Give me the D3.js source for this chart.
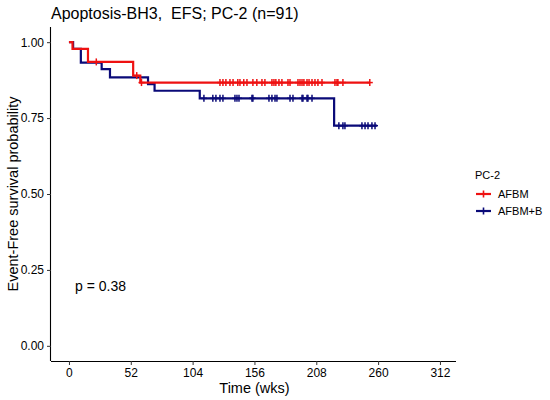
<!DOCTYPE html>
<html>
<head>
<meta charset="utf-8">
<script src="https://cdn.jsdelivr.net/npm/d3@7"></script>
<style>
  html, body { margin: 0; padding: 0; background: #fff; }
  svg { display: block; font-family: "Liberation Sans", Arial, sans-serif; }
</style>
</head>
<body>
<svg id="chart" width="550" height="400"></svg>
<script>
// ---- data ----
const title = "Apoptosis-BH3,  EFS; PC-2 (n=91)";
const groups = ["AFBM", "AFBM+B"];
const groupColors = ["#ee1111", "#0a0a78"];
const xTicks = [0, 52, 104, 156, 208, 260, 312];
const yTicks = [0, 0.25, 0.5, 0.75, 1.0];
const yTickLabels = ["0.00", "0.25", "0.50", "0.75", "1.00"];

// AFBM (red) step curve
const redStepTimes = [0, 3, 16, 54, 60];
const redStepSurv  = [1.0, 0.978, 0.935, 0.89, 0.867];
const redEndTime = 253;
const redCensorTimes = [23, 57, 61, 127, 129.5, 132, 135.4, 138, 142, 143.8, 147, 149.7, 154.7, 158, 162.3,
  164.8, 170.7, 172.4, 174, 176.6, 179.1, 184.2, 185.9, 192.6, 194.3, 196, 197.6, 200.2, 201.9,
  204.4, 206.9, 209.4, 212.8, 223.7, 225.4, 226.2, 230.4, 253];

// AFBM+B (navy) step curve
const navyStepTimes = [0, 3.5, 10, 27.5, 34.5, 66.5, 72, 110, 223];
const navyStepSurv  = [1.0, 0.978, 0.933, 0.911, 0.884, 0.862, 0.84, 0.815, 0.725];
const navyEndTime = 259;
const navyCensorTimes = [113.5, 121, 123.6, 127, 129.5, 139.6, 141.3, 143, 153.9, 154.7, 168.2, 170.7,
  173.3, 174.9, 185.9, 188.4, 196, 196.8, 200.2, 201, 204.4, 227, 230.4, 232.1, 246.4, 249, 251.5,
  254.8, 257.4];

const pValueText = "p = 0.38";
const legendTitle = "PC-2";

// ---- layout ----
const svg = d3.select("#chart");
const plot = { left: 51, right: 456, top: 27, bottom: 361 };

const x = d3.scaleLinear().domain([-15.1, 325.5]).range([plot.left, plot.right]);
const y = d3.scaleLinear().domain([-0.05, 1.05]).range([plot.bottom, plot.top]);

// title
svg.append("text").attr("x", 51).attr("y", 19)
  .attr("font-size", 16).attr("fill", "#000").style("white-space", "pre").text(title);

// axes
const xAxis = d3.axisBottom(x).tickValues(xTicks).tickSize(4).tickPadding(3).tickFormat(d3.format("d"));
const gx = svg.append("g").attr("transform", `translate(0,${plot.bottom})`).call(xAxis);
gx.select(".domain").attr("d", `M${plot.left},0.5H${plot.right}`).attr("stroke", "#000").attr("stroke-width", 1.1);
gx.selectAll(".tick line").attr("stroke", "#333");
gx.selectAll(".tick text").attr("font-size", 12).attr("fill", "#000")
  .attr("font-family", "'Liberation Sans', Arial, sans-serif");

const yAxis = d3.axisLeft(y).tickValues(yTicks).tickSize(4).tickPadding(3)
  .tickFormat((d, i) => yTickLabels[i]);
const gy = svg.append("g").attr("transform", `translate(${plot.left},0)`).call(yAxis);
gy.select(".domain").attr("d", `M-0.5,${plot.top}V${plot.bottom}`).attr("stroke", "#000").attr("stroke-width", 1.1);
gy.selectAll(".tick line").attr("stroke", "#333");
gy.selectAll(".tick text").attr("font-size", 12).attr("fill", "#000")
  .attr("font-family", "'Liberation Sans', Arial, sans-serif");

// axis titles
svg.append("text").attr("x", (plot.left + plot.right) / 2 + 1).attr("y", 393)
  .attr("text-anchor", "middle").attr("font-size", 14.5).text("Time (wks)");
svg.append("text").attr("transform", `translate(18,${(plot.top + plot.bottom) / 2}) rotate(-90)`)
  .attr("text-anchor", "middle").attr("font-size", 14.5).text("Event-Free survival probability");

// curves
function survAt(times, surv, t) {
  let s = surv[0];
  for (let i = 0; i < times.length; i++) if (times[i] <= t) s = surv[i];
  return s;
}
const series = [
  { times: redStepTimes, surv: redStepSurv, end: redEndTime, cens: redCensorTimes, color: groupColors[0] },
  { times: navyStepTimes, surv: navyStepSurv, end: navyEndTime, cens: navyCensorTimes, color: groupColors[1] }
];
const line = d3.line().x(d => x(d[0])).y(d => y(d[1])).curve(d3.curveStepAfter);

[series[1], series[0]].forEach(s => {
  const pts = s.times.map((t, i) => [t, s.surv[i]]);
  pts.push([s.end, s.surv[s.surv.length - 1]]);
  svg.append("path").datum(pts).attr("d", line)
    .attr("fill", "none").attr("stroke", s.color).attr("stroke-width", 2.2);
  const g = svg.append("g");
  s.cens.forEach(t => {
    const cx = x(t), cy = y(survAt(s.times, s.surv, t));
    g.append("line").attr("x1", cx).attr("x2", cx).attr("y1", cy - 3.5).attr("y2", cy + 3.5)
      .attr("stroke", s.color).attr("stroke-width", 1.5);
    g.append("line").attr("x1", cx - 3).attr("x2", cx + 3).attr("y1", cy).attr("y2", cy)
      .attr("stroke", s.color).attr("stroke-width", 1.5);
  });
});

// p-value
svg.append("text").attr("x", 75).attr("y", 291).attr("font-size", 14).text(pValueText);

// legend
const lg = svg.append("g").attr("transform", "translate(475,0)");
lg.append("text").attr("x", 0).attr("y", 179).attr("font-size", 11).text(legendTitle);
groups.forEach((name, i) => {
  const cy = 194 + i * 17;
  lg.append("line").attr("x1", 1).attr("x2", 16).attr("y1", cy).attr("y2", cy)
    .attr("stroke", groupColors[i]).attr("stroke-width", 2.2);
  lg.append("line").attr("x1", 8.5).attr("x2", 8.5).attr("y1", cy - 3.5).attr("y2", cy + 3.5)
    .attr("stroke", groupColors[i]).attr("stroke-width", 1.6);
  lg.append("text").attr("x", 23).attr("y", cy + 4).attr("font-size", 11).text(name);
});
</script>
</body>
</html>
